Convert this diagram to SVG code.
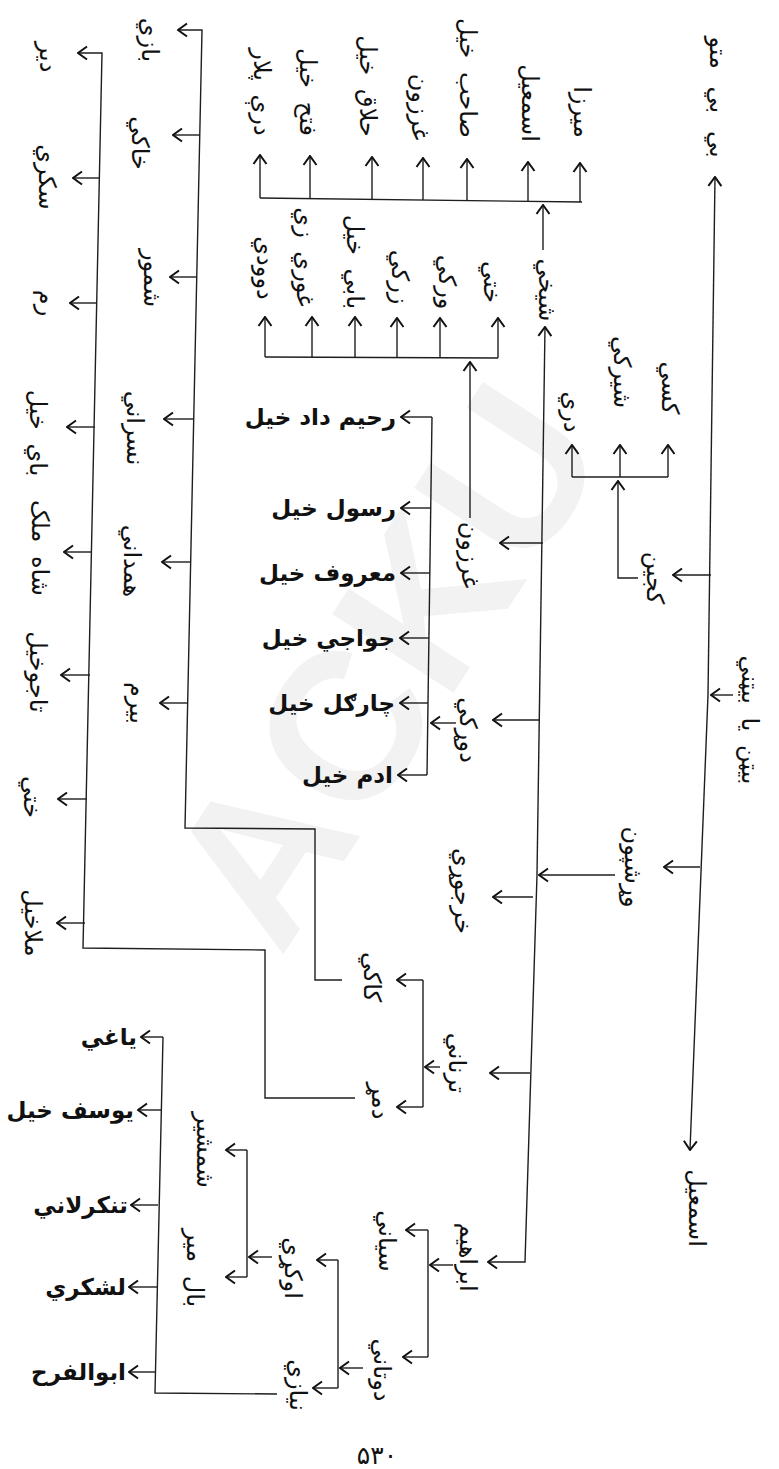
<svg xmlns="http://www.w3.org/2000/svg" width="779" height="1469" viewBox="0 0 779 1469">
<style>
.ln{fill:none;stroke:#1e1e1e;stroke-width:1.4}
.ar{fill:none;stroke:#1e1e1e;stroke-width:1.4;marker-end:url(#a)}
.v{font-family:"DejaVu Sans",sans-serif;font-size:24px;fill:#111;text-anchor:middle;dominant-baseline:central;word-spacing:6px}
.h{font-family:"DejaVu Sans",sans-serif;font-size:23px;font-weight:bold;fill:#111;text-anchor:end}
.wm{font-family:"Liberation Sans",sans-serif;font-size:210px;font-weight:bold;fill:#f2f2f2;text-anchor:middle;dominant-baseline:central}
.pg{font-family:"DejaVu Sans",sans-serif;font-size:25px;fill:#111;text-anchor:middle}
</style>
<defs>
<marker id="a" viewBox="-11 -8 12 16" refX="0" refY="0" markerWidth="12" markerHeight="16" markerUnits="userSpaceOnUse" orient="auto">
<path d="M-9,-6.5 L0,0 L-9,6.5" fill="none" stroke="#111" stroke-width="2"/>
</marker>
</defs>
<rect width="779" height="1469" fill="#fff"/>
<g id="watermark"><text class="wm" transform="translate(385,665) rotate(-57)">ACKU</text></g>
<g id="connectors">
<path class="ar" d="M733,695 L711,695"/>
<path class="ar" d="M708,695 L715,177"/>
<path class="ar" d="M708,695 L690,1150"/>
<path class="ar" d="M711,575 L673,575"/>
<path class="ar" d="M700,867 L664,867"/>
<path class="ar" d="M638,578 L618,578 L618,481"/>
<path class="ln" d="M572,477 L668,477"/>
<path class="ar" d="M572,477 L572,445"/>
<path class="ar" d="M620,477 L620,445"/>
<path class="ar" d="M668,477 L668,445"/>
<path class="ar" d="M615,875 L539,875"/>
<path class="ar" d="M537,875 L545,327"/>
<path class="ar" d="M537,875 L525,1262 L488,1262"/>
<path class="ar" d="M543,250 L543,205"/>
<path class="ln" d="M260,198 L582,202"/>
<path class="ar" d="M260,198 L260,155"/>
<path class="ar" d="M310,199 L310,156"/>
<path class="ar" d="M372,199 L372,157"/>
<path class="ar" d="M423,200 L423,158"/>
<path class="ar" d="M467,200 L467,159"/>
<path class="ar" d="M528,201 L528,162"/>
<path class="ar" d="M580,202 L580,163"/>
<path class="ar" d="M543,543 L500,543"/>
<path class="ar" d="M539,720 L493,720"/>
<path class="ar" d="M533,897 L493,897"/>
<path class="ar" d="M530,1073 L490,1073"/>
<path class="ar" d="M470,518 L470,362"/>
<path class="ln" d="M265,357 L498,358"/>
<path class="ar" d="M265,357 L265,317"/>
<path class="ar" d="M312,357 L312,317"/>
<path class="ar" d="M355,357 L355,317"/>
<path class="ar" d="M397,358 L397,318"/>
<path class="ar" d="M440,358 L440,318"/>
<path class="ar" d="M498,358 L498,318"/>
<path class="ar" d="M456,723 L431,723"/>
<path class="ln" d="M432,417 L427,775"/>
<path class="ar" d="M432,417 L401,417"/>
<path class="ar" d="M431,508 L401,508"/>
<path class="ar" d="M430,573 L401,573"/>
<path class="ar" d="M429,638 L400,638"/>
<path class="ar" d="M428,703 L400,703"/>
<path class="ar" d="M427,775 L398,775"/>
<path class="ar" d="M440,1067 L425,1067"/>
<path class="ln" d="M423,980 L423,1107"/>
<path class="ar" d="M423,980 L397,980"/>
<path class="ar" d="M423,1107 L397,1107"/>
<path class="ar" d="M342,980 L315,980 L315,829 L185,828 L202,30 L178,30"/>
<path class="ar" d="M200,135 L173,135"/>
<path class="ar" d="M197,277 L170,277"/>
<path class="ar" d="M194,419 L164,419"/>
<path class="ar" d="M191,562 L162,562"/>
<path class="ar" d="M188,703 L160,703"/>
<path class="ar" d="M355,1098 L265,1098 L265,950 L83,948 L102,53 L78,53"/>
<path class="ar" d="M100,178 L73,178"/>
<path class="ar" d="M97,303 L70,303"/>
<path class="ar" d="M95,427 L67,427"/>
<path class="ar" d="M92,552 L64,552"/>
<path class="ar" d="M90,675 L61,675"/>
<path class="ar" d="M87,799 L58,799"/>
<path class="ar" d="M85,923 L57,923"/>
<path class="ar" d="M453,1265 L430,1265"/>
<path class="ln" d="M428,1230 L428,1357"/>
<path class="ar" d="M428,1230 L406,1230"/>
<path class="ar" d="M428,1357 L403,1357"/>
<path class="ar" d="M363,1368 L340,1368"/>
<path class="ln" d="M338,1260 L338,1388"/>
<path class="ar" d="M338,1260 L317,1260"/>
<path class="ar" d="M338,1388 L313,1388"/>
<path class="ar" d="M272,1257 L249,1257"/>
<path class="ln" d="M247,1150 L247,1277"/>
<path class="ar" d="M247,1150 L226,1150"/>
<path class="ar" d="M247,1277 L226,1277"/>
<path class="ln" d="M277,1394 L155,1393 L163,1037"/>
<path class="ar" d="M163,1037 L141,1037"/>
<path class="ar" d="M161,1110 L138,1110"/>
<path class="ar" d="M158,1205 L131,1205"/>
<path class="ar" d="M157,1287 L129,1287"/>
<path class="ar" d="M155,1372 L129,1372"/>
</g>
<g id="n-bibimatu"><text class="v" transform="translate(718,97) rotate(90)" style="word-spacing:10px">بي بي متو</text></g>
<g id="n-root"><text class="v" transform="translate(750,720) rotate(90)">بیټن یا بیټني</text></g>
<g id="n-ismail"><text class="v" transform="translate(697,1208) rotate(90)">اسمعیل</text></g>
<g id="n-kajin"><text class="v" transform="translate(655,578) rotate(90)">کجین</text></g>
<g id="n-warshpun"><text class="v" transform="translate(633,867) rotate(90)">وړشپون</text></g>
<g id="n-dari"><text class="v" transform="translate(572,412) rotate(90)">دري</text></g>
<g id="n-shirki"><text class="v" transform="translate(622,372) rotate(90)">شیرکي</text></g>
<g id="n-kasi"><text class="v" transform="translate(670,388) rotate(90)">کسي</text></g>
<g id="n-sheikhi"><text class="v" transform="translate(547,290) rotate(90)">شیخي</text></g>
<g id="n-t1"><text class="v" transform="translate(262,92) rotate(90)">درې پلار</text></g>
<g id="n-t2"><text class="v" transform="translate(308,92) rotate(90)">فتح خیل</text></g>
<g id="n-t3"><text class="v" transform="translate(368,86) rotate(90)">حلاق خیل</text></g>
<g id="n-t4"><text class="v" transform="translate(420,107) rotate(90)">غرزون</text></g>
<g id="n-t5"><text class="v" transform="translate(468,78) rotate(90)">صاحب خیل</text></g>
<g id="n-t6"><text class="v" transform="translate(530,103) rotate(90)">اسمعیل</text></g>
<g id="n-t7"><text class="v" transform="translate(582,112) rotate(90)">میرزا</text></g>
<g id="n-s1"><text class="v" transform="translate(265,268) rotate(90)">دوودي</text></g>
<g id="n-s2"><text class="v" transform="translate(305,257) rotate(90)">غوري زي</text></g>
<g id="n-s3"><text class="v" transform="translate(355,262) rotate(90)">بابي خیل</text></g>
<g id="n-s4"><text class="v" transform="translate(400,277) rotate(90)">زرکي</text></g>
<g id="n-s5"><text class="v" transform="translate(447,282) rotate(90)">ورکي</text></g>
<g id="n-s6"><text class="v" transform="translate(492,282) rotate(90)">ختي</text></g>
<g id="n-gharzun"><text class="v" transform="translate(470,555) rotate(90)">غرزون</text></g>
<g id="n-dorki"><text class="v" transform="translate(468,730) rotate(90)">دوړکي</text></g>
<g id="n-kharjori"><text class="v" transform="translate(463,891) rotate(90)">خرجوړي</text></g>
<g id="n-tarnani"><text class="v" transform="translate(457,1063) rotate(90)">ترناني</text></g>
<g id="n-ibrahim"><text class="v" transform="translate(468,1257) rotate(90)">ابراهیم</text></g>
<g id="n-kaki"><text class="v" transform="translate(372,977) rotate(90)">کاکي</text></g>
<g id="n-damar"><text class="v" transform="translate(380,1101) rotate(90)">دمړ</text></g>
<g id="n-c1"><text class="v" transform="translate(150,40) rotate(90)">بازي</text></g>
<g id="n-c2"><text class="v" transform="translate(140,143) rotate(90)">خاکي</text></g>
<g id="n-c3"><text class="v" transform="translate(152,278) rotate(90)">شمور</text></g>
<g id="n-c4"><text class="v" transform="translate(135,428) rotate(90)">نسراني</text></g>
<g id="n-c5"><text class="v" transform="translate(132,561) rotate(90)">همداني</text></g>
<g id="n-c6"><text class="v" transform="translate(138,703) rotate(90)">بیرم</text></g>
<g id="n-d1"><text class="v" transform="translate(48,57) rotate(90)">دير</text></g>
<g id="n-d2"><text class="v" transform="translate(47,177) rotate(90)">سکري</text></g>
<g id="n-d3"><text class="v" transform="translate(47,303) rotate(90)">رم</text></g>
<g id="n-d4"><text class="v" transform="translate(38,433) rotate(90)">باي خیل</text></g>
<g id="n-d5"><text class="v" transform="translate(40,548) rotate(90)">شاه ملک</text></g>
<g id="n-d6"><text class="v" transform="translate(38,672) rotate(90)">تاجوخیل</text></g>
<g id="n-d7"><text class="v" transform="translate(32,797) rotate(90)">ختي</text></g>
<g id="n-d8"><text class="v" transform="translate(33,923) rotate(90)">ملاخیل</text></g>
<g id="n-i1"><text class="v" transform="translate(387,1241) rotate(90)">سیاني</text></g>
<g id="n-i2"><text class="v" transform="translate(382,1370) rotate(90)">دوتاني</text></g>
<g id="n-g1"><text class="v" transform="translate(293,1268) rotate(90)">اوکړي</text></g>
<g id="n-g2"><text class="v" transform="translate(298,1385) rotate(90)">نیازي</text></g>
<g id="n-shamshir"><text class="v" transform="translate(205,1150) rotate(90)">شمشیر</text></g>
<g id="n-balmir"><text class="v" transform="translate(195,1268) rotate(90)">بال میر</text></g>
<g id="n-h1"><text class="h" x="396" y="425">رحیم داد خیل</text></g>
<g id="n-h2"><text class="h" x="396" y="516">رسول خیل</text></g>
<g id="n-h3"><text class="h" x="396" y="581">معروف خیل</text></g>
<g id="n-h4"><text class="h" x="395" y="646">جواجي خیل</text></g>
<g id="n-h5"><text class="h" x="395" y="711">چارګل خیل</text></g>
<g id="n-h6"><text class="h" x="393" y="783">ادم خیل</text></g>
<g id="n-b1"><text class="h" x="137" y="1045">یاغي</text></g>
<g id="n-b2"><text class="h" x="134" y="1118">یوسف خیل</text></g>
<g id="n-b3"><text class="h" x="128" y="1213">تنکرلاني</text></g>
<g id="n-b4"><text class="h" x="126" y="1295">لشکري</text></g>
<g id="n-b5"><text class="h" x="126" y="1380">ابوالفرح</text></g>
<g id="page"><text class="pg" x="377" y="1464">۵۳۰</text></g>
</svg>
